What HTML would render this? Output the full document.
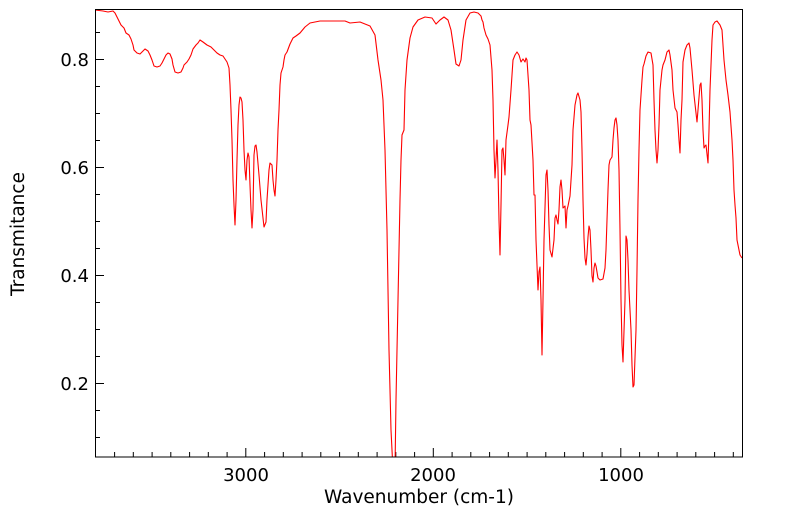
<!DOCTYPE html>
<html><head><style>body{margin:0;background:#fff}</style></head><body>
<svg width="799" height="516" xmlns="http://www.w3.org/2000/svg" font-family="DejaVu Sans, Liberation Sans, sans-serif">
<rect width="799" height="516" fill="#fff"/>
<defs><clipPath id="c"><rect x="95" y="9" width="648" height="448"/></clipPath></defs>
<path stroke="#000" stroke-width="1" fill="none" d="M95,59.5h9M95,167.5h9M95,275.5h9M95,383.5h9
M95,32.5h5M95,86.5h5M95,113.5h5M95,140.5h5M95,194.5h5M95,221.5h5M95,248.5h5M95,302.5h5M95,329.5h5M95,356.5h5M95,410.5h5M95,437.5h5
M245.8,457v-9M433.3,457v-9M620.8,457v-9
M114.6,457v-5M133.3,457v-5M152.1,457v-5M170.8,457v-5M189.6,457v-5M208.3,457v-5M227.1,457v-5M264.6,457v-5M283.3,457v-5M302.1,457v-5M320.8,457v-5M339.6,457v-5M358.3,457v-5M377.1,457v-5M395.8,457v-5M414.6,457v-5M452.1,457v-5M470.8,457v-5M489.6,457v-5M508.3,457v-5M527.1,457v-5M545.8,457v-5M564.6,457v-5M583.3,457v-5M602.1,457v-5M639.6,457v-5M658.3,457v-5M677.1,457v-5M695.8,457v-5M714.6,457v-5M733.3,457v-5"/>
<polyline fill="none" stroke="#ff0000" stroke-width="1.1" stroke-linejoin="round" clip-path="url(#c)" points="95,10 103,11 108,12 113,11 115,13 118,19 121,25 124,28 126,33 129,35 131,39 133,45 134,50 137,53 140,54 143,51 145,49 148,51 150,55 152,60 154,66 157,67 160,66 162,63 164,59 166,55 168,53 170,54 172,59 173,65 175,72 178,73 181,72 183,68 184,65 187,62 189,59 191,55 193,49 196,45 198,43 200,40 203,42 207,45 211,47 214,50 217,53 220,55 223,56 225,59 227,62 229,68 230,85 231,110 232,140 233,180 234,205 235,225 236,200 237,160 238,125 239,105 240,97 241,98 242,102 243,120 244,150 245,170 246,180 247,160 248,153 249,157 250,185 251,210 252,228 253,210 254,155 255,146 256,145 257,152 259,175 261,200 263,218 264,227 266,222 267,200 269,170 270,163 272,165 273,180 274,190 275,196 276,180 277,160 278,130 279,110 280,85 281,73 283,67 284,60 285,55 287,52 290,44 293,38 296,36 300,33 305,27 310,23 320,21 345,21 350,23 360,22 370,26 375,35 378,60 381,80 383,100 385,150 387,230 389,350 391,430 393,470 395,470 396,400 398,300 400,200 401,160 402,135 404,130 405,90 407,60 410,38 413,27 418,20 425,17 432,18 436,24 440,20 444,17 448,20 451,30 454,50 456,64 459,66 461,60 463,40 466,20 470,13 474,12 478,13 481,16 482,20 483,22 484,28 486,35 488,39 490,45 492,70 493,100 494,150 495,178 496,160 497,140 498,170 499,220 500,255 501,205 502,150 503,148 504,160 505,175 506,140 508,125 509,117 511,90 513,60 515,55 517,52 519,55 521,62 523,59 525,62 526,58 527,60 528,75 529,90 530,120 531,125 533,160 534,195 535,195 536,240 538,290 539,272 540,267 541,300 542,355 543,300 544,240 546,175 547,170 548,190 549,225 550,250 552,257 554,240 555,218 556,215 557,220 558,224 559,210 560,187 561,180 562,190 563,208 565,206 566,228 567,210 568,206 570,196 572,165 573,130 575,105 577,95 578,93 580,100 581,112 582,150 583,200 584,238 585,258 586,265 587,254 588,237 589,226 590,230 591,250 592,276 593,282 594,268 595,263 596,266 598,278 600,280 603,279 605,268 606,250 607,220 608,190 609,165 610,160 612,157 613,140 614,128 615,120 616,118 617,125 618,140 619,170 620,230 621,300 622,345 623,362 625,300 626,236 627,240 628,260 629,290 631,330 632,365 633,387 634,385 636,330 637,270 638,200 639,150 640,110 642,80 643,67 644,64 646,56 648,52 651,53 653,65 654,100 655,130 656,150 657,163 658,150 659,125 660,90 662,70 663,65 665,60 667,52 669,50 670,55 672,70 673,90 675,108 677,112 678,125 679,140 680,153 681,120 682,100 683,62 685,50 687,45 689,43 690,48 692,70 694,95 697,122 698,110 700,85 701,83 702,100 703,130 704,148 705,146 706,145 708,163 709,130 710,90 712,40 713,25 715,22 717,21 720,25 722,30 724,60 726,80 728,95 730,112 732,140 733,160 734,190 735,205 736,218 737,240 739,250 740,255 742,258"/>
<rect x="95.5" y="9.5" width="647" height="447.5" fill="none" stroke="#000" stroke-width="1"/>
<g font-size="18" fill="#000" text-anchor="end">
<text x="89" y="66">0.8</text><text x="89" y="174">0.6</text><text x="89" y="282">0.4</text><text x="89" y="390">0.2</text>
</g>
<g font-size="18" fill="#000" text-anchor="middle">
<text x="246" y="481">3000</text><text x="433" y="481">2000</text><text x="621" y="481">1000</text>
<text x="419" y="503" font-size="18.5">Wavenumber (cm-1)</text>
<text transform="translate(24,234) rotate(-90)" font-size="18.5">Transmitance</text>
</g>
</svg>
</body></html>
